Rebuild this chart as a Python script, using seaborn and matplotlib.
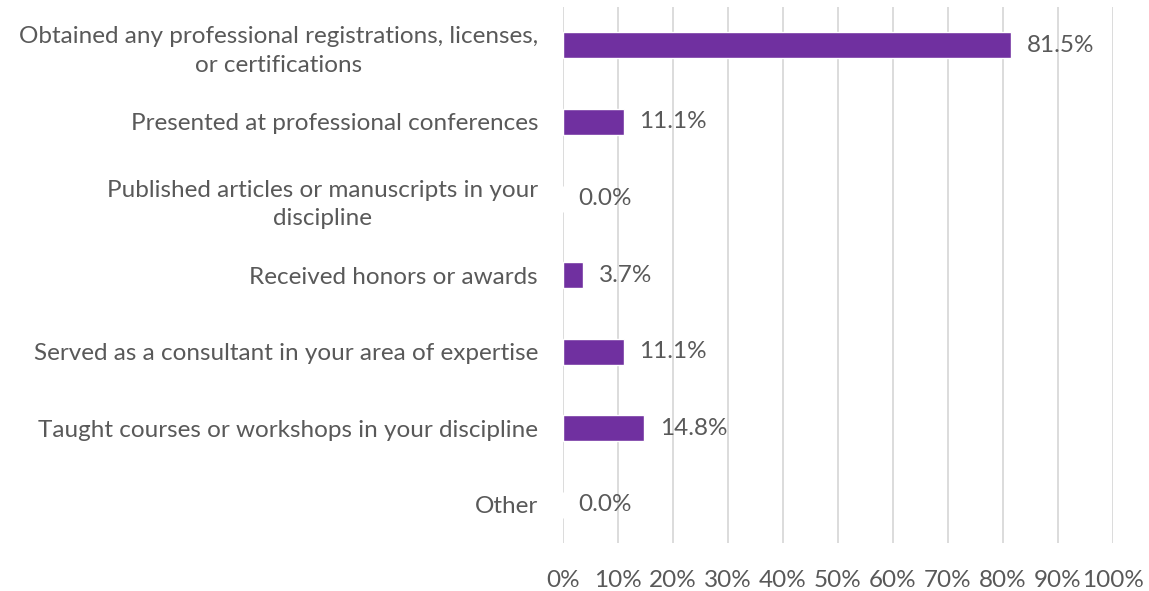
import matplotlib
matplotlib.use("Agg")
import matplotlib.pyplot as plt
import seaborn as sns
import pandas as pd

categories = [
    "Obtained any professional registrations, licenses,\nor certifications",
    "Presented at professional conferences",
    "Published articles or manuscripts in your\ndiscipline",
    "Received honors or awards",
    "Served as a consultant in your area of expertise",
    "Taught courses or workshops in your discipline",
    "Other",
]
percentages = [81.5, 11.1, 0.0, 3.7, 11.1, 14.8, 0.0]
x_ticks = [0, 10, 20, 30, 40, 50, 60, 70, 80, 90, 100]

df = pd.DataFrame({"category": categories, "pct": percentages})

sns.set_style("white")
plt.rcParams["font.family"] = ["Lato", "DejaVu Sans"]
text_color = "#595959"
fs = 17.5

fig = plt.figure(figsize=(11.49, 5.91), dpi=100)
ax = fig.add_axes([0.49, 0.081, 0.4787, 0.907])

sns.barplot(data=df, x="pct", y="category", color="#7030A0", saturation=1,
            width=0.34, orient="h", ax=ax, zorder=3)

ax.set_xlim(0, 100)
ax.set_xticks(x_ticks)
ax.set_xticklabels([f"{t}%" for t in x_ticks], color=text_color, fontsize=fs)
ax.set_yticklabels(categories, color=text_color, fontsize=fs,
                   multialignment="center", linespacing=1.45)
ax.tick_params(axis="x", length=0, pad=19)
ax.tick_params(axis="y", length=0, pad=18)
ax.set_xlabel("")
ax.set_ylabel("")
ax.grid(axis="x", color="#D9D9D9", linewidth=1.3, zorder=0)
for s in ax.spines.values():
    s.set_visible(False)

for i, v in enumerate(percentages):
    ax.annotate(f"{v:.1f}%", xy=(v, i), xytext=(11, 0), textcoords="offset points",
                va="center", ha="left", color=text_color, fontsize=fs)

fig.savefig("out.png", dpi=100)
